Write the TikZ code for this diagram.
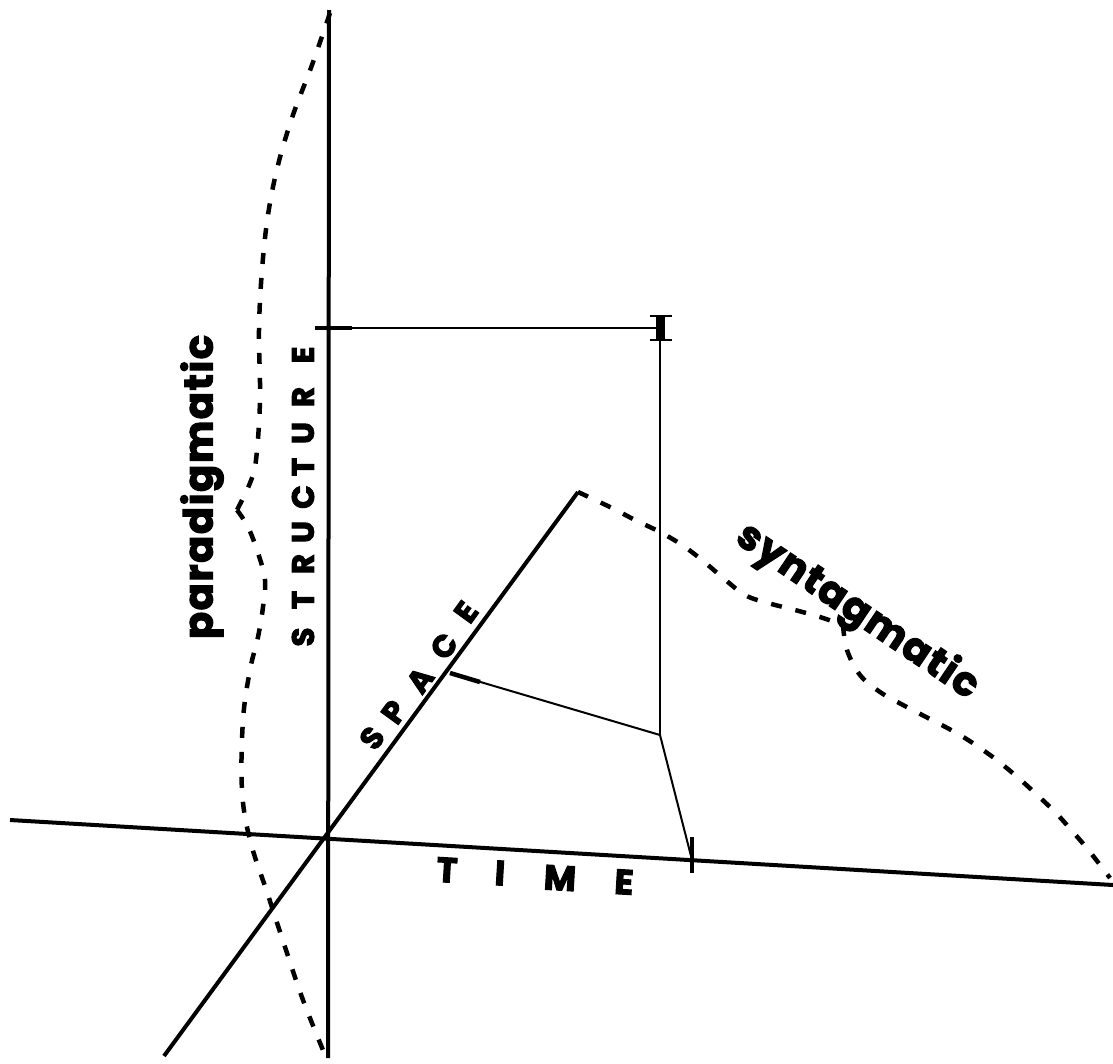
\documentclass[tikz,border=0pt]{standalone}
\usepackage{fontspec}
\newfontfamily\heavy{Poppins}[BoldFeatures={FakeBold=3}, LetterSpace=4]
\tikzset{
  axisline/.style={line width=4pt},
  thinline/.style={line width=2pt},
  tickmark/.style={line width=4.5pt},
  dashcurve/.style={line width=4.5pt, dash pattern=on 11pt off 14pt},
  biglbl/.style={font=\heavy\bfseries\fontsize{40}{40}\selectfont, inner sep=0pt},
  caplbl/.style={font=\heavy\bfseries\fontsize{31}{31}\selectfont, inner sep=0pt},
  timelbl/.style={font=\heavy\bfseries\fontsize{35}{35}\selectfont, inner sep=0pt},
}
\begin{document}
\begin{tikzpicture}[x=1pt,y=-1pt]
\useasboundingbox (0,0) rectangle (1113,1063);
% axes
\coordinate (O) at (328,838);
\coordinate (Vtop) at (329,10);
\coordinate (Vbot) at (328,1058);
\coordinate (Tl) at (10,820);
\coordinate (Tr) at (1113,885);
\coordinate (Stop) at (578,492);
\coordinate (Sbot) at (164,1056);
\draw[axisline] (Vbot) -- (Vtop);
\draw[axisline] (Tl) -- (Tr);
\draw[axisline] (Sbot) -- (Stop);
% projection lines
\coordinate (Hs) at (328,328);
\coordinate (Hb) at (660,328);
\coordinate (Bb) at (660,340);
\coordinate (J) at (660,735);
\coordinate (Sp) at (450,673);
\coordinate (Tm) at (692,860);
\draw[thinline] (Hs) -- (Hb);
\draw[thinline] (Bb) -- (J);
\draw[thinline] (J) -- (Sp);
\draw[thinline] (J) -- (Tm);
% ticks
\draw[tickmark] (315,328) -- (352,328);
\draw[line width=9pt] (660,317) -- (660,339);
\draw[line width=2.5pt] (650,316) -- (672,316);
\draw[line width=2.5pt] (650,340) -- (672,340);
\draw[tickmark] (Sp) -- (480,682);
\draw[tickmark] (692,837) -- (692,873);
% paradigmatic dashed curve
\draw[dashcurve] plot[smooth, tension=0.6] coordinates {(330,13) (312,65) (293,115) (278,165) (268,215) (262,270) (259,330) (260,400) (256,460) (250,483) (237,510)};
\draw[dashcurve] plot[smooth, tension=0.6] coordinates {(237,510) (248,527) (258,553) (265,580) (263,607) (258,637) (250,670) (243,720) (242,790) (250,840) (268,895) (285,947) (303,1000) (325,1055)};
% syntagmatic dashed curve
\draw[dashcurve] plot[smooth, tension=0.6] coordinates {(Stop) (612,508) (635,520) (660,532) (682,545) (702,560) (722,577) (745,595) (768,603) (795,610) (820,617) (843,625)};
\draw[dashcurve] plot[smooth, tension=0.6] coordinates {(843,625) (847,650) (860,675) (880,692) (903,705) (928,718) (960,735) (990,755) (1015,775) (1035,793) (1055,812) (1073,832) (1090,852) (1110,878)};
% labels
\node[biglbl, rotate=90] (para) at (202,487) {paradigmatic};
\node[biglbl, rotate=-34] (synt) at (857,612) {syntagmatic};
\foreach \c/\y [count=\i] in {S/637,T/600,R/564,U/532,C/497,T/467,U/433,R/397,E/355}
  \node[caplbl, rotate=90] (st\i) at (303,\y) {\c};
\foreach \c/\x/\y [count=\i] in {S/372/738,P/394/712,A/420/680,C/444/646,E/466/612}
  \node[caplbl, rotate=54] (sp\i) at (\x,\y) {\c};
\foreach \c/\x/\y [count=\i] in {T/447/870,I/500/873,M/560/878,E/624/882}
  \node[timelbl, rotate=-3.4] (tm\i) at (\x,\y) {\c};
\end{tikzpicture}
\end{document}
